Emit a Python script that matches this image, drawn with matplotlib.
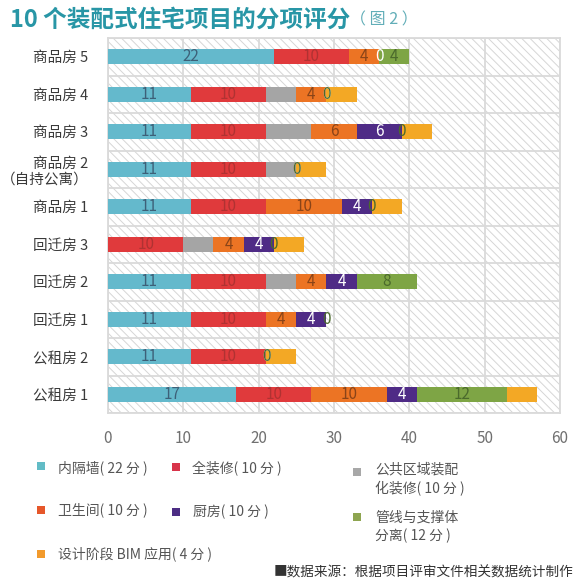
import matplotlib
matplotlib.use("Agg")
import matplotlib.pyplot as plt
from matplotlib.patches import Rectangle
import numpy as np

plt.rcParams['font.family'] = ['Noto Sans CJK SC', 'DejaVu Sans']
plt.rcParams['hatch.linewidth'] = 0.7

categories = ["商品房 5", "商品房 4", "商品房 3", "商品房 2\n（自持公寓）", "商品房 1",
              "回迁房 3", "回迁房 2", "回迁房 1", "公租房 2", "公租房 1"]
series_names = ["内隔墙( 22 分 )", "全装修( 10 分 )", "公共区域装配\n化装修( 10 分 )",
                "卫生间( 10 分 )", "厨房( 10 分 )", "管线与支撑体\n分离( 12 分 )",
                "设计阶段 BIM 应用( 4 分 )"]
neigeqiang = [22, 11, 11, 11, 11, 0, 11, 11, 11, 17]
quanzhuangxiu = [10, 10, 10, 10, 10, 10, 10, 10, 10, 10]
gonggong = [0, 4, 6, 4, 0, 4, 4, 0, 0, 0]
weishengjian = [4, 4, 6, 0, 10, 4, 4, 4, 0, 10]
chufang = [0, 0, 6, 0, 4, 4, 4, 4, 0, 4]
guanxian = [4, 0, 0, 0, 0, 0, 8, 0, 0, 12]
bim = [0, 4, 4, 4, 4, 4, 0, 0, 4, 4]
x_ticks = [0, 10, 20, 30, 40, 50, 60]
title = "10 个装配式住宅项目的分项评分"
title_note = "（ 图 2 ）"
source = "■数据来源：根据项目评审文件相关数据统计制作"

series = [neigeqiang, quanzhuangxiu, gonggong, weishengjian, chufang, guanxian, bim]
colors = ["#64b9cc", "#e03a3c", "#a5a5a5", "#ec7424", "#4f2b86", "#7ea545", "#f3a825"]
legend_colors = ["#62bcc6", "#d8344a", "#a8a8a8", "#e6572a", "#4c2d84", "#8ea550", "#f29a2c"]
label_colors = ["#3d6078", "#b03232", None, "#8a4418", "#ffffff", "#4b6a2c", None]

W, H = 585, 582
fig = plt.figure(figsize=(W / 100, H / 100), dpi=100)
fig.patch.set_facecolor("white")

def fx(px):
    return px / W

def fy(py):
    return 1 - py / H

ax = fig.add_axes([fx(108), fy(413), fx(560) - fx(108), fy(38) - fy(413)])
ax.set_facecolor("white")
ax.add_patch(Rectangle((0, 0), 1, 1, transform=ax.transAxes, facecolor="white",
                       edgecolor="#d6d6d6", hatch="\\\\\\\\", lw=0, zorder=0))

y = np.arange(len(categories))
left = np.zeros(len(categories))
for vals, c, lc in zip(series, colors, label_colors):
    vals = np.array(vals, dtype=float)
    ax.barh(y, vals, left=left, height=0.4, color=c, zorder=3)
    if lc is not None:
        for yi, (l, v) in enumerate(zip(left, vals)):
            if v == 0 and c in (colors[0], colors[1]):
                continue
            ax.text(l + v / 2, yi, f"{int(v)}", ha="center", va="center",
                    color=lc, fontsize=11, zorder=5)
    left += vals

ax.set_xlim(0, 60)
ax.set_ylim(len(categories) - 0.5, -0.5)
ax.set_xticks(x_ticks)
ax.set_xticklabels([str(t) for t in x_ticks])
ax.set_yticks(y)
ax.set_yticklabels(categories, fontsize=10.5, color="#3a3a3a", linespacing=1.2)
ax.set_yticks(np.arange(-0.5, len(categories), 1), minor=True)
ax.tick_params(axis="y", which="both", length=0, pad=14)
ax.tick_params(axis="x", length=0, pad=12, labelsize=11, labelcolor="#707070")
ax.grid(axis="x", which="major", color="#dadada", lw=1.3, zorder=1)
ax.grid(axis="y", which="minor", color="#dadada", lw=1.3, zorder=1)
ax.grid(axis="y", which="major", visible=False)
for s in ax.spines.values():
    s.set_color("#dadada")
    s.set_linewidth(1.3)

# title
fig.text(fx(10), fy(20), title, fontsize=17, fontweight="bold",
         color="#2896a6", ha="left", va="center")
fig.text(fx(350), fy(20), title_note, fontsize=11.5, color="#62aeb8",
         ha="left", va="center")

# legend
leg_pos = [(41, 466, 58, 468), (176, 467, 192, 469), (357, 472, 375, 479),
           (41, 510, 58, 510), (176, 512, 193, 512), (357, 517, 375, 527),
           (41, 554, 58, 554)]
for name, lc, (mx, my, tx, ty) in zip(series_names, legend_colors, leg_pos):
    s = 8
    fig.add_artist(Rectangle((fx(mx - s / 2), fy(my + s / 2)), s / W, s / H,
                             transform=fig.transFigure, facecolor=lc, edgecolor="none"))
    fig.text(fx(tx), fy(ty), name, fontsize=10, color="#555555", ha="left",
             va="center", linespacing=1.4)

fig.text(fx(573), fy(572), source, fontsize=9.8, color="#333333", ha="right", va="center")

fig.savefig("out.png", dpi=100)
